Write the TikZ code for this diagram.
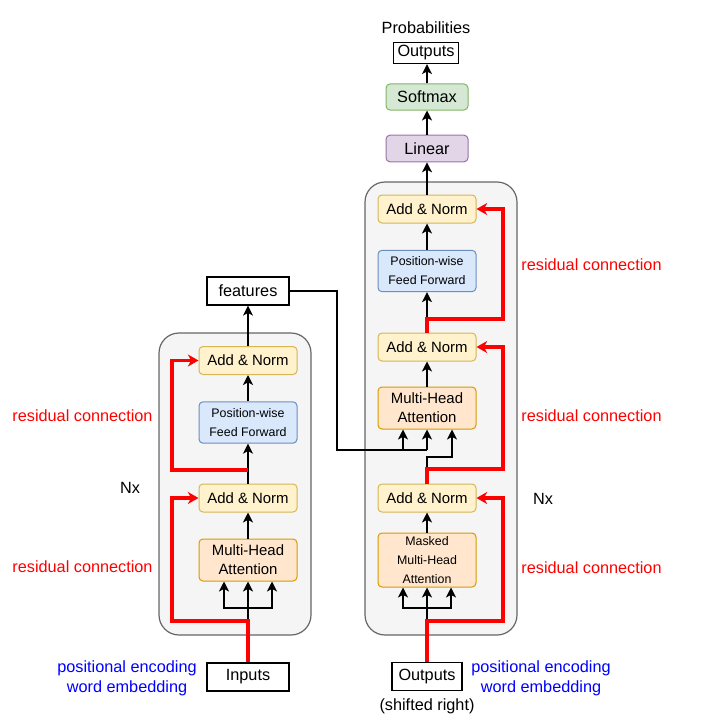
\documentclass[tikz,border=0pt]{standalone}
\usepackage{fontspec}
\setmainfont{Liberation Sans}
\usepackage{tikz}
\usetikzlibrary{arrows.meta,positioning}

\definecolor{yelfill}{HTML}{FFF2CC}
\definecolor{yeldraw}{HTML}{D6B656}
\definecolor{orafill}{HTML}{FFE6CC}
\definecolor{oradraw}{HTML}{D79B00}
\definecolor{blufill}{HTML}{DAE8FC}
\definecolor{bludraw}{HTML}{6C8EBF}
\definecolor{grnfill}{HTML}{D5E8D4}
\definecolor{grndraw}{HTML}{82B366}
\definecolor{purfill}{HTML}{E1D5E7}
\definecolor{purdraw}{HTML}{9673A6}
\definecolor{layfill}{HTML}{F5F5F5}
\definecolor{laydraw}{HTML}{666666}
\definecolor{resred}{HTML}{FF0000}
\definecolor{embblue}{HTML}{0000FF}

\tikzset{
  layerbox/.style={draw=laydraw, fill=layfill, line width=0.9pt, rounded corners=15pt, minimum width=114pt, inner sep=0pt},
  block/.style={draw, rounded corners=3pt, line width=0.75pt, minimum width=73.5pt, inner sep=0pt, align=center, font=\fontsize{11.2}{14.25}\selectfont},
  addnorm/.style={block, fill=yelfill, draw=yeldraw, minimum height=21pt},
  attn/.style={block, fill=orafill, draw=oradraw, minimum height=31.5pt},
  ffn/.style={block, fill=blufill, draw=bludraw, minimum height=31pt, font=\fontsize{9.3}{14.25}\selectfont},
  iobox/.style={draw, fill=white, line width=0.9pt, inner sep=0pt, minimum height=21pt, font=\fontsize{12.2}{15}\selectfont},
  lbl/.style={font=\fontsize{12.2}{15}\selectfont},
  arr/.style={line width=1.1pt, -{Stealth[length=7.5pt,width=7.5pt,inset=2pt]}},
  res/.style={line width=2.3pt, draw=resred, -{Stealth[length=8pt,width=9pt,inset=2.5pt]}},
}

\begin{document}
\begin{tikzpicture}[x=0.75pt, y=-0.75pt]
    \useasboundingbox (0,0) rectangle (724,724);
    \node[layerbox, minimum height=226.5pt] (enc) at (235,484) {};
    \node[layerbox, minimum height=339.75pt] (dec) at (441,408.5) {};

    \node[attn] (mha1) at (248,560) {Multi-Head\\Attention};
    \node[addnorm] (an1) at (248,498) {Add \& Norm};
    \node[ffn] (ff1) at (248,422.5) {Position-wise\\Feed Forward};
    \node[addnorm] (an2) at (248,360.5) {Add \& Norm};
    \node[iobox, minimum width=61.5pt] (feat) at (248,291) {features};
    \node[iobox, minimum width=61.5pt] (inp) at (248,677) {Inputs};

    \node[attn, minimum height=40.5pt, font=\fontsize{9.3}{14.25}\selectfont] (mmha) at (427,560) {Masked\\Multi-Head\\Attention};
    \node[addnorm] (an3) at (427,498) {Add \& Norm};
    \node[attn] (mha2) at (427,408) {Multi-Head\\Attention};
    \node[addnorm] (an4) at (427,347) {Add \& Norm};
    \node[ffn] (ff2) at (427,271) {Position-wise\\Feed Forward};
    \node[addnorm] (an5) at (427,209) {Add \& Norm};
    \node[block, fill=purfill, draw=purdraw, minimum width=61.5pt, minimum height=20pt, font=\fontsize{12.2}{15}\selectfont] (lin) at (427,148.5) {Linear};
    \node[block, fill=grnfill, draw=grndraw, minimum width=61.5pt, minimum height=19.5pt, font=\fontsize{12.2}{15}\selectfont] (soft) at (427,97) {Softmax};
    \node[iobox, minimum width=48.75pt, minimum height=15.75pt] (outtop) at (426,53) {Outputs};
    \node[lbl] (prob) [above=3pt of outtop] {Probabilities};
    \node[iobox, minimum width=52.5pt] (outbot) at (427,676.5) {Outputs};
    \node[lbl] (shift) [below=2pt of outbot] {(shifted right)};

    \node[lbl, text=resred] (rc1) at (82.5,416) {residual connection};
    \node[lbl, text=resred] (rc2) at (82.5,567) {residual connection};
    \node[lbl, text=resred] (rc3) at (591.5,265) {residual connection};
    \node[lbl, text=resred] (rc4) at (591.5,416) {residual connection};
    \node[lbl, text=resred] (rc5) at (591.5,568) {residual connection};
    \node[lbl] (nx1) at (130,488) {Nx};
    \node[lbl] (nx2) at (543,499) {Nx};
    \node[lbl, text=embblue, align=center] (emb1) at (127,678) {positional encoding\\word embedding};
    \node[lbl, text=embblue, align=center] (emb2) at (541,678) {positional encoding\\word embedding};

    \coordinate (s1) at (248,608);
    \coordinate (s2) at (427,608);
    \coordinate (f1) at (337,450);
    \coordinate (k) at (452,457);
    \coordinate (q1) at ([xshift=-18pt]mha2.south);
    \coordinate (r1) at (172,621);
    \coordinate (r2) at (172,470);
    \coordinate (r3) at (503,621);
    \coordinate (r4) at (503,469);
    \coordinate (r5) at (503,319);

    \draw[arr] (inp) -- (mha1);
    \draw[arr] (s1) -| ([xshift=-18pt]mha1.south);
    \draw[arr] (s1) -| ([xshift=18pt]mha1.south);
    \draw[arr] (mha1) -- (an1);
    \draw[arr] (an1) -- (ff1);
    \draw[arr] (ff1) -- (an2);
    \draw[arr] (an2) -- (feat);

    \draw[line width=1.1pt] (feat.east) -| (f1) -- (f1 -| mha2.south);
    \draw[arr] (f1 -| mha2.south) -- (mha2.south);
    \draw[arr] (f1 -| q1) -- (q1);

    \draw[arr] (outbot) -- (mmha);
    \draw[arr] (s2) -| ([xshift=-18pt]mmha.south);
    \draw[arr] (s2) -| ([xshift=18pt]mmha.south);
    \draw[arr] (mmha) -- (an3);
    \draw[arr] (an3.north) |- (k) -- (k |- mha2.south);
    \draw[arr] (mha2) -- (an4);
    \draw[arr] (an4) -- (ff2);
    \draw[arr] (ff2) -- (an5);
    \draw[arr] (an5) -- (lin);
    \draw[arr] (lin) -- (soft);
    \draw[arr] (soft.north) -- (soft.north |- outtop.south);

    \draw[res] (inp.north) |- (r1) |- (an1.west);
    \draw[res] (an1.north |- r2) -- (r2) |- (an2.west);
    \draw[res] (outbot.north) |- (r3) |- (an3.east);
    \draw[res] (an3.north) |- (r4) |- (an4.east);
    \draw[res] (an4.north) |- (r5) |- (an5.east);
\end{tikzpicture}
\end{document}
